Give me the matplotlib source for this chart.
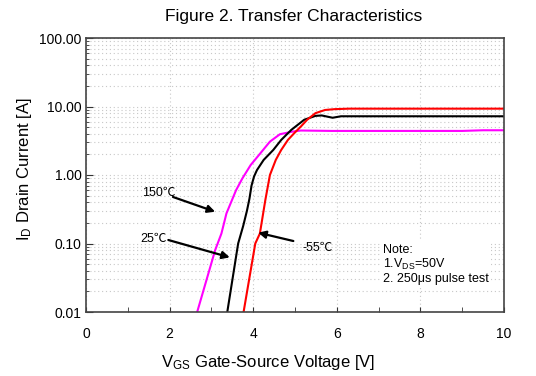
import numpy as np
from matplotlib import pyplot as plt
from matplotlib.ticker import FixedLocator, FixedFormatter, LogLocator, NullFormatter

plt.rcParams['font.family'] = ['Liberation Sans', 'Noto Sans CJK SC', 'DejaVu Sans']
plt.rcParams['mathtext.fontset'] = 'custom'
plt.rcParams['mathtext.rm'] = 'Liberation Sans'

# 150C (magenta)
v_150 = [2.66, 3.09, 3.24, 3.36, 3.59, 3.74, 3.94, 4.17, 4.40, 4.64, 4.95, 5.14, 5.88, 7.0, 8.0, 9.0, 9.5, 10.0]
i_150 = [0.01, 0.08, 0.14, 0.275, 0.60, 0.89, 1.40, 2.07, 3.07, 3.94, 4.31, 4.46, 4.40, 4.40, 4.40, 4.40, 4.50, 4.50]
# 25C (black)
v_25 = [3.38, 3.64, 3.76, 3.85, 3.91, 3.96, 4.02, 4.09, 4.25, 4.48, 4.67, 4.91, 5.22, 5.49, 5.64, 5.90, 6.10, 10.0]
i_25 = [0.01, 0.1, 0.18, 0.30, 0.45, 0.70, 0.95, 1.18, 1.66, 2.32, 3.25, 4.55, 6.4, 7.3, 7.4, 6.85, 7.2, 7.2]
# -55C (red)
v_m55 = [3.77, 4.05, 4.16, 4.29, 4.40, 4.54, 4.67, 4.83, 4.98, 5.14, 5.29, 5.49, 5.72, 5.95, 6.30, 10.0]
i_m55 = [0.01, 0.1, 0.14, 0.43, 1.0, 1.66, 2.32, 3.25, 4.07, 5.1, 6.4, 8.0, 8.9, 9.15, 9.3, 9.3]

yticks = [0.01, 0.1, 1, 10, 100]
ytick_labels = ['0.01', '0.10', '1.00', '10.00', '100.00']
xticks = [0, 2, 4, 6, 8, 10]

fig = plt.figure(figsize=(5.36, 3.76), dpi=100)
ax = fig.add_axes([86/536, 1-312/376, (504-86)/536, (312-38)/376])

ax.plot(v_150, i_150, color='#ff00ff', lw=1.5)
ax.plot(v_25, i_25, color='black', lw=1.5)
ax.plot(v_m55, i_m55, color='#ff0000', lw=1.5)

ax.set_yscale('log')
ax.set_xlim(0, 10)
ax.set_ylim(0.01, 100)
ax.yaxis.set_major_locator(FixedLocator(yticks))
ax.yaxis.set_major_formatter(FixedFormatter(ytick_labels))
ax.yaxis.set_minor_locator(LogLocator(base=10, subs=np.arange(2, 10)))
ax.yaxis.set_minor_formatter(NullFormatter())
ax.set_xticks(xticks)
ax.set_xticks([1, 3, 5, 7, 9], minor=True)

ax.tick_params(which='both', direction='in', labelsize=10, colors='#333333', labelcolor='black')
ax.tick_params(axis='x', which='both', length=3.5, pad=11)
ax.tick_params(axis='y', which='major', length=5, pad=3)
ax.tick_params(axis='y', which='minor', length=2.5)
ax.grid(True, which='major', color='#c8c8c8', ls=(0, (1, 2.5)), lw=0.8)
ax.grid(True, which='minor', axis='y', color='#c8c8c8', ls=(0, (1, 2.5)), lw=0.8)
for s in ax.spines.values():
    s.set_color('#444444')
    s.set_linewidth(1.2)

fig.text(294/536, 0.955, 'Figure 2. Transfer Characteristics', ha='center', va='center', fontsize=12.5)
fig.text(268/536, 1-363/376, r'$\mathregular{V_{GS}}$ Gate-Source Voltage [V]', ha='center', va='center', fontsize=12)
fig.text(24/536, 1-169/376, r'$\mathregular{I_D}$ Drain Current [A]', ha='center', va='center', rotation=90, fontsize=12)

arrow = dict(arrowstyle='-|>', color='black', lw=1.6, mutation_scale=11, shrinkA=0, shrinkB=0)
ax.text(1.34, 0.546, '150℃', fontsize=9, va='center')
ax.annotate('', xy=(3.09, 0.291), xytext=(2.08, 0.478), arrowprops=arrow)
ax.text(1.29, 0.115, '25℃', fontsize=9, va='center')
ax.annotate('', xy=(3.44, 0.0627), xytext=(1.97, 0.1125), arrowprops=arrow)
ax.text(5.17, 0.0851, '-55℃', fontsize=9, va='center')
ax.annotate('', xy=(4.12, 0.1438), xytext=(4.96, 0.1087), arrowprops=arrow)

ax.text(7.1, 0.098, 'Note:\n1.$\\mathregular{V_{DS}}$=50V\n2. 250μs pulse test', fontsize=9,
        va='top', ha='left', linespacing=1.1,
        bbox=dict(facecolor='white', edgecolor='none', pad=2))

plt.savefig('out.png', dpi=100)
